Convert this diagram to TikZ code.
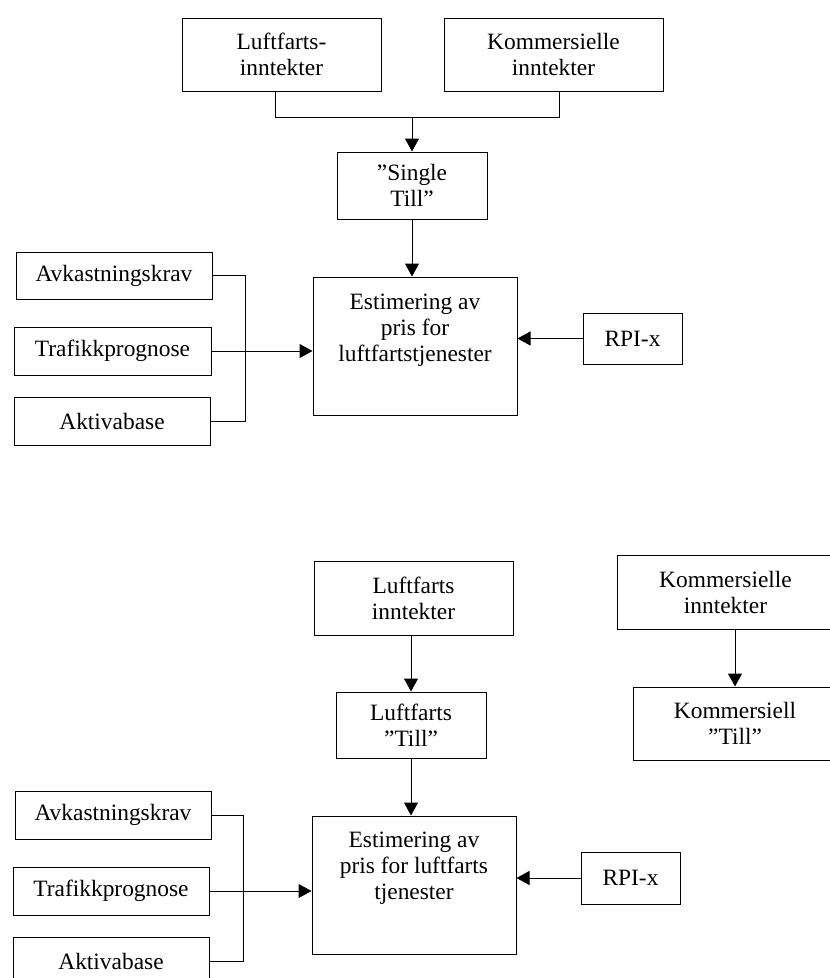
\documentclass[tikz,border=0pt]{standalone}
\usepackage{fontspec}
\setmainfont{Liberation Serif}
\usetikzlibrary{arrows.meta}
\newcommand\mainsize{\fontsize{23.4pt}{26pt}\selectfont}
\begin{document}
\begin{tikzpicture}[x=1pt,y=-1pt,
  box/.style={draw, line width=1pt, inner sep=0pt, align=center, font=\mainsize},
  txt/.style={inner sep=0pt, align=center, font=\mainsize},
  conn/.style={line width=1pt},
  arr/.style={conn, -{Triangle[length=13pt,width=14pt]}}]
\useasboundingbox (0,0) rectangle (830,978);

% ---------- top diagram ----------
\node[box, minimum width=199pt, minimum height=73pt] (luft1) at (281.5,54.5) {Luftfarts-\\inntekter};
\node[box, minimum width=219pt, minimum height=73pt] (komm1) at (553.5,54.5) {Kommersielle\\inntekter};
\node[box, minimum width=150pt, minimum height=67pt] (single) at (412,185.5) {”Single\\Till”};
\node[box, minimum width=204pt, minimum height=138pt] (est1) at (415,346) {};
\node[txt, anchor=north, yshift=-17pt] (est1t) at (est1.north) {Estimering av\\pris for\\luftfartstjenester};
\node[box, minimum width=99pt, minimum height=51pt] (rpi1) at (632.5,338.5) {RPI-x};
\node[box, minimum width=196pt, minimum height=47pt] (avk1) at (114,275.5) {Avkastningskrav};
\node[box, minimum width=197pt, minimum height=48pt] (traf1) at (112.5,351) {Trafikkprognose};
\node[box, minimum width=196pt, minimum height=48pt] (akt1) at (112,421) {Aktivabase};

\coordinate (j1) at (275,117);
\coordinate (j2) at (559,117);
\coordinate (jm) at (412,117);
\coordinate (v1) at (245,0);
\draw[conn] (luft1.south -| j1) -- (j1) -- (j2) -- (komm1.south -| j2);
\draw[arr] (jm) -- (single.north);
\draw[arr] (single.south) -- (single.south |- est1.north);
\draw[conn] (avk1.east) -- (avk1.east -| v1) -- (akt1.east -| v1) -- (akt1.east);
\draw[arr] (traf1.east) -- (traf1.east -| est1.west);
\draw[arr] (rpi1.west) -- (rpi1.west -| est1.east);

% ---------- bottom diagram ----------
\node[box, minimum width=199pt, minimum height=74pt] (luft2) at (413.5,598) {Luftfarts\\inntekter};
\node[box, minimum width=217pt, minimum height=74pt] (komm2) at (725.5,592) {Kommersielle\\inntekter};
\node[box, minimum width=150pt, minimum height=66pt] (ltill) at (411,725) {Luftfarts\\”Till”};
\node[box, minimum width=204pt, minimum height=73pt] (ktill) at (735,723.5) {Kommersiell\\”Till”};
\node[box, minimum width=204pt, minimum height=138pt] (est2) at (414,885) {};
\node[txt, anchor=north, yshift=-16.5pt] (est2t) at (est2.north) {Estimering av\\pris for luftfarts\\tjenester};
\node[box, minimum width=99pt, minimum height=52pt] (rpi2) at (630.5,878) {RPI-x};
\node[box, minimum width=196pt, minimum height=48pt] (avk2) at (113,815) {Avkastningskrav};
\node[box, minimum width=196pt, minimum height=48pt] (traf2) at (111,891) {Trafikkprognose};
\node[box, minimum width=196pt, minimum height=48pt] (akt2) at (111,961) {Aktivabase};

\coordinate (v2) at (243,0);
\draw[arr] (ltill.north |- luft2.south) -- (ltill.north);
\draw[arr] (ltill.south) -- (ltill.south |- est2.north);
\draw[arr] (ktill.north |- komm2.south) -- (ktill.north);
\draw[conn] (avk2.east) -- (avk2.east -| v2) -- (akt2.east -| v2) -- (akt2.east);
\draw[arr] (traf2.east) -- (traf2.east -| est2.west);
\draw[arr] (rpi2.west) -- (rpi2.west -| est2.east);
\end{tikzpicture}
\end{document}
